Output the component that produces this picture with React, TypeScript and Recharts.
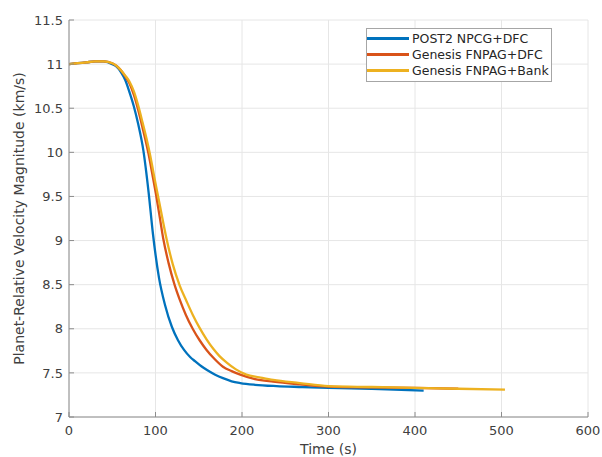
import { LineChart, Line, XAxis, YAxis, CartesianGrid } from "recharts";

type Pt = { t: number; v: number };

const timeTicks = [0, 100, 200, 300, 400, 500, 600];
const velTicks = [7, 7.5, 8, 8.5, 9, 9.5, 10, 10.5, 11, 11.5];

// POST2 NPCG+DFC
const post2T = [0, 10, 20, 30, 40, 50, 55, 60, 65, 70, 75, 80, 86, 92, 97, 104, 111, 119, 126, 133, 140, 146, 153, 160, 169, 178, 188, 198, 215, 240, 270, 300, 350, 410];
const post2V = [11.0, 11.01, 11.02, 11.03, 11.03, 11.0, 10.97, 10.91, 10.82, 10.68, 10.52, 10.32, 10.02, 9.55, 9.08, 8.58, 8.27, 8.02, 7.87, 7.76, 7.68, 7.63, 7.575, 7.53, 7.48, 7.44, 7.405, 7.385, 7.365, 7.35, 7.34, 7.33, 7.32, 7.3];

// Genesis FNPAG+DFC
const fnDfcT = [0, 10, 20, 30, 40, 50, 55, 60, 65, 70, 75, 80, 85, 92, 96, 101, 105, 109, 115, 122, 128, 135, 143, 151, 159, 168, 178, 188, 198, 215, 236, 267, 300, 350, 400, 450];
const fnDfcV = [11.0, 11.01, 11.02, 11.03, 11.03, 11.01, 10.98, 10.93, 10.86, 10.78, 10.65, 10.48, 10.28, 9.98, 9.77, 9.5, 9.26, 9.02, 8.75, 8.5, 8.33, 8.16, 8.0, 7.87, 7.76, 7.66, 7.57, 7.52, 7.48, 7.43, 7.4, 7.37, 7.345, 7.335, 7.33, 7.32];

// Genesis FNPAG+Bank
const fnBankT = [0, 10, 20, 30, 40, 50, 55, 60, 65, 70, 75, 80, 85, 90, 94, 98, 103, 108, 113, 120, 128, 136, 143, 151, 159, 167, 174, 182, 193, 205, 220, 236, 267, 300, 350, 400, 450, 504];
const fnBankV = [11.0, 11.01, 11.02, 11.03, 11.03, 11.01, 10.98, 10.93, 10.87, 10.8, 10.69, 10.53, 10.34, 10.14, 9.96, 9.75, 9.5, 9.25, 9.01, 8.73, 8.49, 8.31, 8.16, 8.01, 7.88, 7.77, 7.69, 7.62, 7.54, 7.48, 7.45, 7.42, 7.385, 7.35, 7.34, 7.33, 7.32, 7.31];

const zip = (t: number[], v: number[]): Pt[] => t.map((x, i) => ({ t: x, v: v[i] }));

const series = [
  { name: "POST2 NPCG+DFC", color: "#0072BD", data: zip(post2T, post2V) },
  { name: "Genesis FNPAG+DFC", color: "#D95319", data: zip(fnDfcT, fnDfcV) },
  { name: "Genesis FNPAG+Bank", color: "#EDB120", data: zip(fnBankT, fnBankV) },
];

const font = "'DejaVu Sans', sans-serif";
const tickStyle = { fontSize: 13, fill: "#404040", fontFamily: font };

function LegendBox() {
  return (
    <div
      style={{
        position: "absolute",
        left: 366,
        top: 28,
        border: "1.5px solid #a6a6a6",
        background: "#fff",
        width: 184,
        padding: "1px 0 2px",
        fontFamily: font,
        fontSize: 12.5,
        color: "#262626",
      }}
    >
      {series.map((s) => (
        <div key={s.name} style={{ display: "flex", alignItems: "center", height: 16.3 }}>
          <span style={{ display: "inline-block", width: 42, height: 3, background: s.color, marginRight: 3 }} />
          <span>{s.name}</span>
        </div>
      ))}
    </div>
  );
}

export default function App() {
  return (
    <div style={{ position: "absolute", left: 0, top: 0, width: 602, height: 457, background: "#fff" }}>
      <LineChart width={602} height={457} margin={{ top: 20, right: 14, bottom: 0, left: 0 }}>
        <CartesianGrid stroke="#e6e6e6" />
        <XAxis
          type="number"
          dataKey="t"
          domain={[0, 600]}
          ticks={timeTicks}
          height={40}
          stroke="#8c8c8c"
          tickSize={-5}
          tickMargin={14}
          tick={tickStyle}
          allowDataOverflow
          label={{ value: "Time (s)", position: "insideBottom", offset: 3, style: { fontSize: 14, fill: "#404040", fontFamily: font } }}
        />
        <YAxis
          type="number"
          domain={[7, 11.5]}
          ticks={velTicks}
          width={69}
          stroke="#8c8c8c"
          tickSize={-5}
          tickMargin={11}
          tick={tickStyle}
          allowDataOverflow
          label={{
            value: "Planet-Relative Velocity Magnitude (km/s)",
            angle: -90,
            position: "insideLeft",
            offset: 19,
            style: { textAnchor: "middle", fontSize: 14, fill: "#404040", fontFamily: font },
          }}
        />
        {series.map((s) => (
          <Line
            key={s.name}
            data={s.data}
            dataKey="v"
            name={s.name}
            type="monotone"
            stroke={s.color}
            strokeWidth={2.3}
            dot={false}
            isAnimationActive={false}
          />
        ))}
      </LineChart>
      <LegendBox />
    </div>
  );
}
